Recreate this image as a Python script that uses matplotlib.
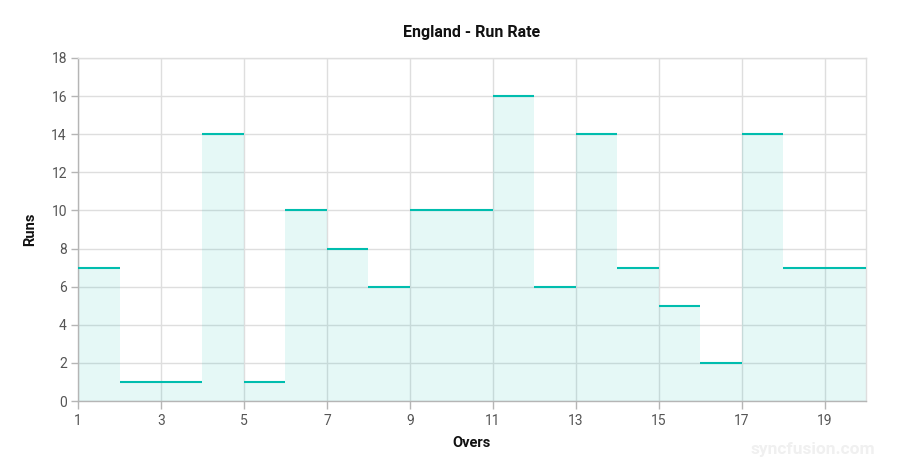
import numpy as np
import matplotlib.pyplot as plt

# -----------------------------
# Input data
# -----------------------------

overs = [1, 2, 3, 4, 5, 6, 7, 8, 9, 10, 11, 12, 13, 14, 15, 16, 17, 18, 19, 20]
runs = [7, 1, 1, 14, 1, 10, 8, 6, 10, 10, 16, 6, 14, 7, 5, 2, 14, 7, 7]

x_ticks = [1, 3, 5, 7, 9, 11, 13, 15, 17, 19]
y_ticks = [0, 2, 4, 6, 8, 10, 12, 14, 16, 18]

line_color = "#00bdae"
grid_color = "#dedede"
axis_color = "#b5b5b5"
text_color = "#555555"

plt.rcParams['font.family'] = ['Roboto', 'DejaVu Sans']

fig = plt.figure(figsize=(8.98, 4.71), dpi=100)
ax = fig.add_axes([0.0869, 0.1486, 0.8775, 0.7283])

# step area: fill + only the horizontal segments
fill_vals = runs + [runs[-1]]
ax.fill_between(overs, fill_vals, step='post', color=line_color, alpha=0.1, linewidth=0)
ax.hlines(runs, overs[:-1], overs[1:], color=line_color, linewidth=1.5, zorder=3)

ax.set_xlim(overs[0], overs[-1])
ax.set_ylim(0, 18)
ax.set_xticks(x_ticks)
ax.set_yticks(y_ticks)

ax.grid(True, color=grid_color, linewidth=1)
ax.set_axisbelow(True)

for side in ["left", "bottom"]:
    ax.spines[side].set_color(axis_color)
    ax.spines[side].set_linewidth(1)
for side in ["top", "right"]:
    ax.spines[side].set_color(grid_color)
    ax.spines[side].set_linewidth(1)

ax.tick_params(axis='x', colors=axis_color, labelcolor=text_color, labelsize=10, length=6, width=1, pad=3)
ax.tick_params(axis='y', colors=axis_color, labelcolor=text_color, labelsize=10, length=5, width=1, pad=3)

ax.set_xlabel("Overs", fontsize=10.5, fontweight='bold', color="#111111", labelpad=6)
ax.set_ylabel("Runs", fontsize=10.5, fontweight='bold', color="#111111", labelpad=10)
ax.set_title("England - Run Rate", fontsize=11.5, fontweight='bold', color="#111111", pad=15)

# watermark
fig.text(0.975, 0.03, "syncfusion.com", ha='right', va='bottom', fontsize=12.5,
         fontweight='bold', color="#f0f0f0")

plt.savefig("out.png", dpi=100)
plt.close()
